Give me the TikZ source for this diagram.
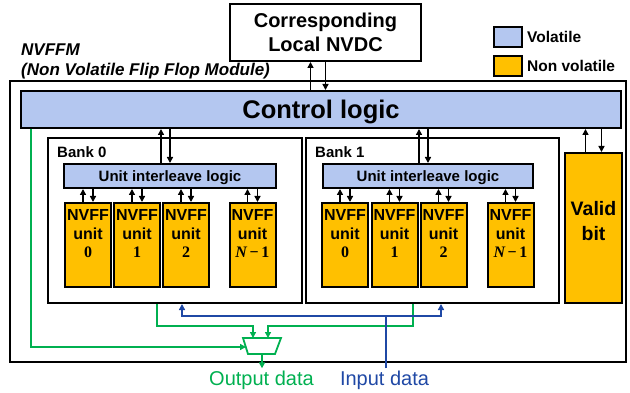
\documentclass[tikz,border=0pt]{standalone}
\usepackage{fontspec}
\setmainfont{Liberation Sans}
\newfontfamily\numfont{Liberation Serif}
\usetikzlibrary{arrows.meta,shapes.geometric,calc}
\definecolor{volblue}{RGB}{180,199,240}
\definecolor{nvorange}{RGB}{255,192,0}
\definecolor{dgreen}{RGB}{0,176,80}
\definecolor{dblue}{RGB}{31,72,165}
\newcommand{\unitnum}[1]{{\numfont\bfseries #1}}
\newcommand{\unitlast}{{\numfont\bfseries\itshape N}{\numfont\bfseries\,−\,1}}
\begin{document}
\begin{tikzpicture}[x=1pt,y=-1pt,
  bx/.style={draw, line width=2pt, inner sep=0pt, rectangle},
  vol/.style={bx, fill=volblue},
  nv/.style={bx, fill=nvorange},
  bankbox/.style={bx, fill=white, minimum width=#1, minimum height=165pt},
  unitlbl/.style={anchor=north, align=center, font=\fontsize{16}{18.5}\selectfont\bfseries, inner sep=0pt, yshift=-7.5pt},
  unitbox/.style={nv, minimum width=46pt, minimum height=84pt, label={[unitlbl]north:#1}},
  validlbl/.style={anchor=north, align=center, font=\fontsize{19.5}{25}\selectfont\bfseries, inner sep=0pt, yshift=-49pt},
  uilbox/.style={vol, minimum width=#1, minimum height=24pt, text depth=0pt, font=\fontsize{15}{18}\selectfont\bfseries},
  lbltext/.style={inner sep=0pt, font=\fontsize{15}{18}\selectfont\bfseries},
  sig/.style={line width=1.7pt, -{Triangle[length=6pt,width=6pt]}},
  gline/.style={line width=1.8pt, draw=dgreen},
  bline/.style={line width=1.8pt, draw=dblue},
]
\useasboundingbox (0,0) rectangle (630,393);

% outer module
\node[bx, minimum width=616pt, minimum height=281pt] (nvffm) at (318,221.5) {};
\node[anchor=base west, inner sep=0pt, font=\fontsize{17}{20}\selectfont\bfseries\itshape] (title1) at (21,56) {NVFFM};
\node[anchor=base west, inner sep=0pt, font=\fontsize{17}{20}\selectfont\bfseries\itshape] (title2) at (21,76) {(Non Volatile Flip Flop Module)};

% NVDC
\node[bx, fill=white, minimum width=191pt, minimum height=57pt, align=center, font=\fontsize{20}{24}\selectfont\bfseries] (nvdc) at (325.5,32.5) {Corresponding\\Local NVDC};

% legend
\node[vol, minimum width=28pt, minimum height=20pt] (legv) at (508,37) {};
\node[lbltext, anchor=west, font=\fontsize{15.5}{18}\selectfont\bfseries] (legvt) at (527,37) {Volatile};
\node[nv, minimum width=28pt, minimum height=20pt] (legn) at (508,66) {};
\node[lbltext, anchor=west, font=\fontsize{15.5}{18}\selectfont\bfseries] (legnt) at (527,66) {Non volatile};

% control logic
\node[vol, minimum width=600pt, minimum height=37pt, text depth=0pt, font=\fontsize{25.5}{30}\selectfont\bfseries] (ctrl) at (321,109.5) {Control logic};

% banks
\node[bankbox=254pt] (b0) at (175,220.5) {};
\node[lbltext, anchor=base west] (b0t) at (57,158) {Bank 0};
\node[bankbox=253pt] (b1) at (432.5,220.5) {};
\node[lbltext, anchor=base west] (b1t) at (315,158) {Bank 1};

% valid bit
\node[nv, minimum width=57pt, minimum height=150pt, label={[validlbl]north:Valid\\bit}] (valid) at (593.5,228) {};

% unit interleave logic
\node[uilbox=212pt] (uil0) at (170,176) {Unit interleave logic};
\node[uilbox=210pt] (uil1) at (428,176) {Unit interleave logic};

% NVFF units
\node[unitbox={NVFF\\unit\\\unitnum{0}}] (u00) at (88,245) {};
\node[unitbox={NVFF\\unit\\\unitnum{1}}] (u01) at (137,245) {};
\node[unitbox={NVFF\\unit\\\unitnum{2}}] (u02) at (186,245) {};
\node[unitbox={NVFF\\unit\\\unitlast}] (u03) at (252.5,245) {};
\node[unitbox={NVFF\\unit\\\unitnum{0}}] (u10) at (345,245) {};
\node[unitbox={NVFF\\unit\\\unitnum{1}}] (u11) at (394.5,245) {};
\node[unitbox={NVFF\\unit\\\unitnum{2}}] (u12) at (443.5,245) {};
\node[unitbox={NVFF\\unit\\\unitlast}] (u13) at (510.5,245) {};

% unit <-> interleave arrows
\foreach \u/\b in {u00/uil0,u01/uil0,u02/uil0,u03/uil0,u10/uil1,u11/uil1,u12/uil1,u13/uil1}{
  \draw[sig] ([xshift=-5pt]\u.north) -- ([xshift=-5pt]\u.north |- \b.south);
  \draw[sig] ([xshift=5pt]\u.north |- \b.south) -- ([xshift=5pt]\u.north);
}

% interleave <-> control
\foreach \b in {uil0,uil1}{
  \draw[sig] ([xshift=-9pt]\b.north) -- ([xshift=-9pt]\b.north |- ctrl.south);
  \draw[sig] (\b.north |- ctrl.south) -- (\b.north);
}

% valid <-> control
\draw[sig] ([xshift=-8pt]valid.north) -- ([xshift=-8pt]valid.north |- ctrl.south);
\draw[sig] ([xshift=8pt]valid.north |- ctrl.south) -- ([xshift=8pt]valid.north);

% control <-> NVDC
\draw[sig] ([xshift=-15pt]nvdc.south |- ctrl.north) -- ([xshift=-15pt]nvdc.south);
\draw[sig] (nvdc.south) -- (nvdc.south |- ctrl.north);

% output / input labels
\node[anchor=base, inner sep=2pt, font=\fontsize{20}{24}\selectfont, text=dgreen] (outd) at (261.5,385) {Output data};
\node[anchor=base, inner sep=2pt, font=\fontsize{20}{24}\selectfont, text=dblue] (ind) at (384.5,385) {Input data};

% mux
\draw[gline, fill=white] (243,338) -- (281,338) -- (275,354) -- (248,354) -- cycle;
\coordinate (mux) at (262,346);

% green paths
\draw[sig, gline] ([xshift=11pt]ctrl.south west) |- ([xshift=-16pt,yshift=-1pt]mux);
\draw[sig, gline] ([xshift=110pt]b0.south west) -- ++(0,22) -| ([xshift=-9pt,yshift=8pt]mux);
\draw[sig, gline] ([xshift=108pt]b1.south west) -- ++(0,22) -| ([xshift=6pt,yshift=8pt]mux);
\draw[sig, gline] ([yshift=-8pt]mux) -- (outd.north -| mux);

% blue paths
\coordinate (bj) at (386,316);
\draw[bline] (ind.north -| bj) -- (bj);
\draw[sig, bline] (bj) -| ([xshift=135pt]b0.south west);
\draw[sig, bline] (bj) -| ([xshift=136pt]b1.south west);
\end{tikzpicture}
\end{document}
